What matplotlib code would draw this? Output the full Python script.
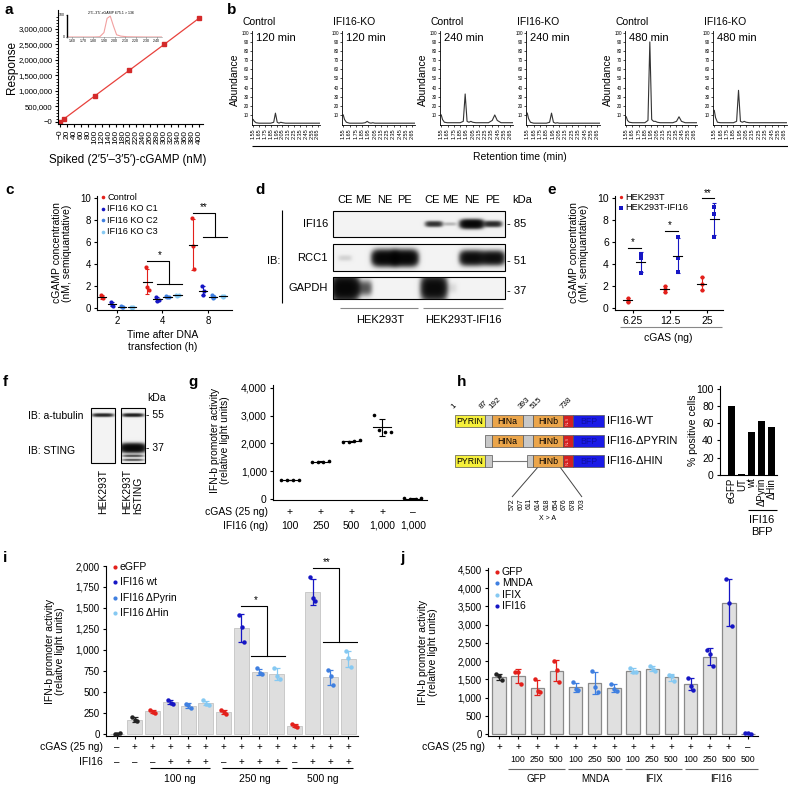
import numpy as np
import matplotlib
matplotlib.use("Agg")
import matplotlib.pyplot as plt
from matplotlib.patches import Rectangle
import matplotlib.transforms as mtrans
from matplotlib.ticker import FuncFormatter

plt.rcParams['font.family'] = ['Liberation Sans', 'DejaVu Sans']
plt.rcParams['font.size'] = 7
plt.rcParams['axes.linewidth'] = 0.8
plt.rcParams['xtick.major.width'] = 0.8
plt.rcParams['ytick.major.width'] = 0.8
plt.rcParams['xtick.major.size'] = 2.5
plt.rcParams['ytick.major.size'] = 2.5
plt.rcParams['xtick.major.pad'] = 2
plt.rcParams['ytick.major.pad'] = 2

# ------------------------------------------------------------------ data
# a
a_conc = [0, 10, 100, 200, 300, 400]
a_resp = [0, 90000, 840000, 1670000, 2500000, 3340000]
a_in_time = [1.55, 1.60, 1.70, 1.80, 1.86, 1.90, 1.93, 1.96, 1.99, 2.02, 2.06, 2.12, 2.30, 2.45]
a_in_abund = [0, 0, 0, 0, 1, 20, 85, 95, 50, 10, 4, 1, 0, 0]
# b
b_ret = [1.55, 1.57, 1.60, 1.65, 1.75, 1.85, 1.90, 1.93, 1.96, 1.99, 2.02,
         2.05, 2.10, 2.20, 2.30, 2.36, 2.40, 2.44, 2.50, 2.60, 2.70]
b_ctrl_120 = [5, 3, 1.5, 1, 1, 1, 2, 12, 2, 1, 2, 1.5, 1, 1, 1, 1, 1, 1, 1, 1, 1]
b_ko_120 = [10, 5, 2, 1, 1, 1, 1.5, 3, 1.5, 1, 1.5, 1, 1, 1, 1, 1, 1, 1, 1, 1, 1]
b_ctrl_240 = [10, 5, 2, 1.5, 1.5, 1.5, 3, 33, 3, 2, 3, 2, 1.5, 1.5, 1.5, 4, 10, 4, 1.5, 1.5, 1.5]
b_ko_240 = [12, 6, 2, 1, 1, 1, 2, 12, 2, 1, 1.5, 1, 1, 1, 1, 1, 1, 1, 1, 1, 1]
b_ctrl_480 = [8, 4, 2, 1.5, 1.5, 1.5, 4, 90, 5, 3, 3, 2, 1.5, 1.5, 1.5, 3, 8, 3, 1.5, 1.5, 1.5]
b_ko_480 = [15, 7, 2, 1.5, 1.5, 1.5, 3, 37, 3, 2, 3, 2, 1.5, 1.5, 1.5, 1.5, 1.5, 1.5, 1.5, 1.5, 1.5]
b_titles = ['Control', 'IFI16-KO', 'Control', 'IFI16-KO', 'Control', 'IFI16-KO']
b_times = ['120 min', '120 min', '240 min', '240 min', '480 min', '480 min']
b_ticks = [1.55, 1.65, 1.75, 1.85, 1.95, 2.05, 2.15, 2.25, 2.35, 2.45, 2.55, 2.65]
# c
c_times = ['2', '4', '8']
c_series = ['Control', 'IFI16 KO C1', 'IFI16 KO C2', 'IFI16 KO C3']
c_ctrl = [[1.2, 0.95, 0.85], [3.7, 1.9, 1.6], [8.2, 5.6, 3.5]]
c_ko1 = [[0.5, 0.3, 0.2], [1.0, 0.65, 0.7], [2.0, 1.2, 1.5]]
c_ko2 = [[0.12, 0.05, 0.08], [1.1, 0.95, 1.0], [1.2, 0.9, 0.95]]
c_ko3 = [[0.05, 0.02, 0.04], [1.2, 1.1, 1.15], [1.1, 1.0, 1.05]]
# d
d_lanes = ['CE', 'ME', 'NE', 'PE', 'CE', 'ME', 'NE', 'PE']
d_cells = ['HEK293T', 'HEK293T-IFI16']
d_blots = ['IFI16', 'RCC1', 'GAPDH']
d_kda = ['85', '51', '37']
d_ifi16 = [0, 0, 0, 0, 0.45, 0.08, 1.0, 0.5]
d_rcc1 = [0.04, 0, 1, 1, 0, 0, 0.85, 0.8]
d_gapdh = [1, 0.3, 0, 0, 0.9, 0.03, 0, 0]
# e
e_cgas = ['6.25', '12.5', '25']
e_series = ['HEK293T', 'HEK293T-IFI16']
e_wt = [[0.9, 0.55, 0.6], [2.0, 1.7, 1.4], [2.8, 2.2, 1.6]]
e_ifi16 = [[4.9, 4.5, 3.2], [6.5, 4.5, 3.3], [9.2, 8.6, 6.5]]
# f
f_lanes = ['HEK293T', 'HEK293T\nhSTING']
f_tubulin = [0.55, 0.6]
f_sting = [0.0, 1.0]
f_sting_low = [0.0, 0.35]
# g
g_cgas = ['+', '+', '+', '+', '–']
g_ifi16 = ['100', '250', '500', '1,000', '1,000']
g_vals = [[700, 700, 700, 700], [1350, 1330, 1335, 1360], [2060, 2065, 2075, 2110],
          [3030, 2480, 2420, 2400], [20, 15, 15, 20]]
# h
h_constructs = ['IFI16-WT', 'IFI16-ΔPYRIN', 'IFI16-ΔHIN']
h_residues = ['1', '87', '192', '393', '515', '738']
h_mutations = ['572', '607', '611', '614', '618', '654', '676', '678', '703']
h_cells = ['eGFP', 'UT', 'wt', 'ΔPyrin', 'ΔHin']
h_pct = [80, 1, 50, 63, 55]
# i
i_cgas = ['–', '+', '+', '+', '+', '+', '+', '+', '+', '+', '+', '+', '+', '+']
i_ifi16 = ['–', '–', '–', '+', '+', '+', '–', '+', '+', '+', '–', '+', '+', '+']
i_doses = ['100 ng', '250 ng', '500 ng']
i_legend = ['eGFP', 'IFI16 wt', 'IFI16 ΔPyrin', 'IFI16 ΔHin']
i_kind = ['none', 'none', 'eGFP', 'IFI16 wt', 'IFI16 ΔPyrin', 'IFI16 ΔHin',
          'eGFP', 'IFI16 wt', 'IFI16 ΔPyrin', 'IFI16 ΔHin',
          'eGFP', 'IFI16 wt', 'IFI16 ΔPyrin', 'IFI16 ΔHin']
i_vals = [[5, 0, 10], [200, 165, 150], [290, 265, 250], [410, 370, 360], [360, 345, 305],
          [400, 360, 350], [280, 262, 240], [1420, 1270, 1090], [780, 730, 710],
          [790, 690, 650], [120, 95, 80], [1870, 1620, 1580], [760, 690, 580], [990, 900, 800]]
# j
j_cgas = ['+'] * 13 + ['–']
j_dose = ['', '100', '250', '500', '100', '250', '500', '100', '250', '500', '100', '250', '500', '500']
j_groups = ['GFP', 'MNDA', 'IFIX', 'IFI16']
j_kind = ['none', 'GFP', 'GFP', 'GFP', 'MNDA', 'MNDA', 'MNDA', 'IFIX', 'IFIX', 'IFIX',
          'IFI16', 'IFI16', 'IFI16', 'IFI16']
j_vals = [[1640, 1600, 1480], [1710, 1690, 1380], [1500, 1180, 1150], [2000, 1770, 1430],
          [1430, 1230, 1210], [1730, 1300, 1150], [1380, 1240, 1180], [1820, 1700, 1700],
          [1880, 1780, 1730], [1630, 1600, 1450], [1540, 1330, 1220], [2300, 2200, 1860],
          [4250, 3590, 2970], [30, 20, 10]]

RED = '#e3201b'
DBLUE = '#1616c4'
MBLUE = '#3f7fe0'
LBLUE = '#86c9f2'
BLK = '#222222'

# ------------------------------------------------------------------ layout helpers
W, H = 788, 785
fig = plt.figure(figsize=(W / 100, H / 100), dpi=100)


def pax(x0, y0, x1, y1, **kw):
    return fig.add_axes([x0 / W, 1 - y1 / H, (x1 - x0) / W, (y1 - y0) / H], **kw)


ov = pax(0, 0, W, H)
ov.set_zorder(10)
ov.axis('off')


def T(x, y, s, **kw):
    kw.setdefault('ha', 'center')
    kw.setdefault('va', 'center')
    return ov.text(x, y, s, **kw)


def L(xs, ys, **kw):
    kw.setdefault('color', 'k')
    kw.setdefault('lw', 0.8)
    ov.plot(xs, ys, solid_capstyle='butt', **kw)


def clean(ax):
    ax.spines['top'].set_visible(False)
    ax.spines['right'].set_visible(False)


def bt(ax):
    return mtrans.blended_transform_factory(ax.transData, ov.transData)


comma = FuncFormatter(lambda v, p: f'{int(round(v)):,}')


def blot(x0, y0, w, h, bands):
    """bands: list of (cx, cy, width, height, intensity)"""
    nx, ny = int(w * 4), int(h * 4)
    xs = np.linspace(x0, x0 + w, nx)
    ys = np.linspace(y0, y0 + h, ny)
    X, Y = np.meshgrid(xs, ys)
    D = np.zeros_like(X)
    for cx, cy, bw, bh, it in bands:
        if it <= 0:
            continue
        D += it * np.exp(-np.abs((X - cx) / (bw / 2)) ** 4 - np.abs((Y - cy) / (bh / 2)) ** 2.4)
    dark = 1 - np.exp(-3.5 * D)
    img = 0.95 * (1 - dark)
    ov.imshow(img, cmap='gray', vmin=0, vmax=1, extent=(x0, x0 + w, y0 + h, y0),
              aspect='auto', interpolation='bilinear', zorder=2)
    ov.add_patch(Rectangle((x0, y0), w, h, facecolor='none', edgecolor='k', lw=0.8, zorder=4))


# panel letters
for s, x, y in [('a', 5, 10), ('b', 227, 10), ('c', 5, 190), ('d', 255, 190), ('e', 547, 190),
                ('f', 3, 382), ('g', 188, 382), ('h', 457, 382), ('i', 3, 558), ('j', 400, 558)]:
    T(x, y, s, fontsize=11, fontweight='bold', ha='left')

# ------------------------------------------------------------------ a
axA = pax(58, 10, 203, 124)
clean(axA)
axA.plot(a_conc, a_resp, color='#e8413c', lw=0.9)
axA.errorbar(a_conc, a_resp, yerr=[25000] * len(a_conc), fmt='s', ms=2.2, color='#d42a2a',
             elinewidth=0.6, capsize=1)
axA.set_xlim(-6, 412)
axA.set_ylim(-65000, 3610000)
yt = list(range(0, 3000001, 500000))
axA.set_yticks(yt)
axA.set_yticklabels(['−0'] + [f'{v:,}' for v in yt[1:]], fontsize=5.6)
axA.set_yticks(range(0, 3400001, 100000), minor=True)
xt = list(range(0, 401, 20))
axA.set_xticks(xt)
axA.set_xticklabels(['−0'] + [str(v) for v in xt[1:]], rotation=90, fontsize=6)
axA.tick_params(which='minor', length=1.2)
axA.tick_params(length=2)
T(12, 67, 'Response', rotation=90, fontsize=8.5)
T(128, 160, 'Spiked (2′5′–3′5′)-cGAMP (nM)', fontsize=8.3)

axAi = pax(67, 15, 162, 37)
clean(axAi)
axAi.plot(a_in_time, a_in_abund, color='#f2a0a0', lw=0.8)
axAi.set_xlim(1.55, 2.45)
axAi.set_ylim(0, 100)
axAi.set_yticks([0, 100])
axAi.set_yticklabels(['0', '100'], fontsize=2.5)
axAi.set_xticks(np.round(np.arange(1.60, 2.41, 0.1), 2))
axAi.set_xticklabels([f'{v:.2f}' for v in np.arange(1.60, 2.41, 0.1)], fontsize=2.5)
axAi.tick_params(length=1, width=0.4, pad=0.5)
axAi.spines['left'].set_linewidth(1.0)
axAi.spines['bottom'].set_linewidth(0.4)
axAi.spines['bottom'].set_color('#888')
T(111, 13, '2′5′–3′5′-cGAMP 675.1 > 136', fontsize=2.6)

# ------------------------------------------------------------------ b
b_traces = [b_ctrl_120, b_ko_120, b_ctrl_240, b_ko_240, b_ctrl_480, b_ko_480]
b_boxes = [(252, 320), (342, 415), (440, 513), (526, 600), (625, 697), (713, 787)]
for k, (x0, x1) in enumerate(b_boxes):
    ax = pax(x0, 31, x1, 125)
    clean(ax)
    ax.plot(b_ret, b_traces[k], color='#333333', lw=0.8)
    ax.set_xlim(1.53, 2.69)
    ax.set_ylim(-1, 102)
    ax.set_yticks(range(10, 101, 10))
    ax.set_yticklabels([str(v) for v in range(10, 101, 10)], fontsize=3.3)
    ax.set_xticks(b_ticks)
    ax.set_xticklabels([f'{v:.2f}' for v in b_ticks], rotation=90, fontsize=4)
    ax.tick_params(length=1.2, width=0.5, pad=1)
    ax.spines['left'].set_linewidth(0.6)
    ax.spines['bottom'].set_linewidth(0.6)
    T(x0 - 9, 22, b_titles[k], fontsize=7.5, ha='left')
    T(x0 + 4, 38, b_times[k], fontsize=8, ha='left')
    if k % 2 == 0:
        T(x0 - 17, 80, 'Abundance', rotation=90, fontsize=7.5)
L([252, 788], [146, 146])
T(520, 157, 'Retention time (min)', fontsize=7.5)

# ------------------------------------------------------------------ c
axC = pax(97, 196, 232, 310)
clean(axC)
c_data = [c_ctrl, c_ko1, c_ko2, c_ko3]
c_cols = [RED, DBLUE, MBLUE, LBLUE]
c_off = [-0.33, -0.11, 0.11, 0.33]
jit = [-0.03, 0.0, 0.03]
for s, data in enumerate(c_data):
    for g, pts in enumerate(data):
        x = g + c_off[s]
        m = np.mean(pts)
        sd = np.std(pts, ddof=1)
        axC.errorbar(x, m, yerr=sd, color=c_cols[s], lw=0.8, capsize=1.5, capthick=0.8)
        axC.plot([x + j for j in jit], pts, 'o', ms=3, color=c_cols[s], mew=0)
        axC.plot([x - 0.09, x + 0.09], [m, m], color='k', lw=0.8)
axC.set_xlim(-0.44, 2.53)
axC.set_ylim(-0.2, 10.2)
axC.set_yticks(range(0, 11, 2))
axC.set_xticks(range(3))
axC.set_xticklabels(c_times)
axC.tick_params(labelsize=7)
axC.plot([1 - 0.33, 1.15, 1.15], [4.27, 4.27, 2.2], color='k', lw=0.8)
axC.plot([0.87, 1.42], [2.2, 2.2], color='k', lw=0.8)
axC.text(0.93, 4.35, '*', ha='center', va='bottom', fontsize=7)
axC.plot([2 - 0.33, 2.15, 2.15], [8.65, 8.65, 6.45], color='k', lw=0.8)
axC.plot([1.89, 2.42], [6.45, 6.45], color='k', lw=0.8)
axC.text(1.9, 8.7, '**', ha='center', va='bottom', fontsize=7)
for s, name in enumerate(c_series):
    y = 197 + s * 11.6
    ov.plot(103, y, 'o', ms=2.6, color=c_cols[s], mew=0)
    T(107.5, y, name, fontsize=6.6, ha='left')
T(62, 253, 'cGAMP concentration\n(nM, semiquantative)', rotation=90, fontsize=7.5, linespacing=1.1)
T(163, 341, 'Time after DNA\ntransfection (h)', fontsize=7.5, linespacing=1.2)

# ------------------------------------------------------------------ d
lane_x = [345, 363, 385, 405, 434, 450, 472, 493]
rows = [(211, 237), (244, 271), (277, 299)]
band_y = [224, 258, 288]
band_wh = [(22, 8), (24, 14), (25, 24)]
d_int = [d_ifi16, d_rcc1, d_gapdh]
for r, (y0, y1) in enumerate(rows):
    wm, hm = band_wh[r]
    bands = [(cx, band_y[r], wm * (0.55 + 0.45 * it), hm * (0.4 + 0.6 * it), it)
             for cx, it in zip(lane_x, d_int[r])]
    blot(333, y0, 172, y1 - y0, bands)
    T(328, band_y[r], d_blots[r], ha='right', fontsize=8)
    T(507, band_y[r] + (0 if r == 0 else 3), '- ' + d_kda[r], ha='left', fontsize=8)
for l, cx in enumerate([345, 363, 385, 405, 432, 450, 472, 493]):
    T(cx, 200, d_lanes[l], fontsize=8)
T(512, 200, 'kDa', ha='left', fontsize=8)
T(274, 261, 'IB:', fontsize=8)
L([282, 282], [210, 303])
L([340, 418], [308, 308], color='#888')
L([423, 503], [308, 308], color='#888')
T(380, 320, d_cells[0], fontsize=8)
T(463, 320, d_cells[1], fontsize=8)

# ------------------------------------------------------------------ e
axE = pax(615, 196, 723, 310)
clean(axE)
e_data = [e_wt, e_ifi16]
e_cols = [RED, DBLUE]
e_off = [-0.15, 0.2]
e_mk = ['o', 's']
for s, data in enumerate(e_data):
    for g, pts in enumerate(data):
        x = g + e_off[s]
        m = np.mean(pts)
        sd = np.std(pts, ddof=1)
        axE.errorbar(x, m, yerr=sd, color=e_cols[s], lw=0.8, capsize=1.5, capthick=0.8)
        axE.plot([x] * len(pts), pts, e_mk[s], ms=3, color=e_cols[s], mew=0)
        axE.plot([x - 0.12, x + 0.12], [m, m], color='k', lw=0.8)
axE.set_xlim(-0.49, 2.43)
axE.set_ylim(-0.2, 10.2)
axE.set_yticks(range(0, 11, 2))
axE.set_xticks(range(3))
axE.set_xticklabels(e_cgas)
axE.tick_params(labelsize=7.5)
axE.plot([-0.15, 0.2], [5.5, 5.5], color='k', lw=0.8)
axE.text(0.0, 5.55, '*', ha='center', va='bottom', fontsize=7)
axE.plot([0.85, 1.2], [7.0, 7.0], color='k', lw=0.8)
axE.text(1.0, 7.05, '*', ha='center', va='bottom', fontsize=7)
axE.plot([1.85, 2.2], [10.0, 10.0], color='k', lw=0.8, clip_on=False)
axE.text(2.02, 10.05, '**', ha='center', va='bottom', fontsize=7, clip_on=False)
for s, name in enumerate(e_series):
    y = 197 + s * 10.5
    ov.plot(621, y, e_mk[s], ms=2.4, color=e_cols[s], mew=0)
    T(625.5, y, name, fontsize=6.6, ha='left')
L([620, 722], [327, 327], color='#888')
T(668, 338, 'cGAS (ng)', fontsize=7.5)
T(579, 253, 'cGAMP concentration\n(nM, semiquantative)', rotation=90, fontsize=7.5, linespacing=1.1)

# ------------------------------------------------------------------ f
f_x = [103, 133]
for l, cx in enumerate(f_x):
    bands = [(cx, 415, 20, 3.2, f_tubulin[l]), (cx, 448, 24, 8, f_sting[l]),
             (cx, 456, 20, 2.2, f_sting_low[l]), (cx, 460, 20, 2.0, f_sting_low[l])]
    blot(cx - 12, 408, 24, 55, bands)
    T(cx, 469, f_lanes[l], rotation=90, ha='center', va='top', fontsize=7.5, linespacing=1.1,
      multialignment='left')
T(28, 416, 'IB: a-tubulin', ha='left', fontsize=7.5)
T(28, 451, 'IB: STING', ha='left', fontsize=7.5)
T(147, 398, 'kDa', ha='left', fontsize=7.5)
T(146, 415, '- 55', ha='left', fontsize=7.5)
T(146, 448, '- 37', ha='left', fontsize=7.5)

# ------------------------------------------------------------------ g
axG = pax(273, 385, 427, 500)
clean(axG)
g_off = [-0.28, -0.09, 0.09, 0.28]
for g, pts in enumerate(g_vals):
    m = np.mean(pts)
    sd = np.std(pts, ddof=1)
    axG.errorbar(g, m, yerr=sd, color='k', lw=0.8, capsize=2, capthick=0.8)
    axG.plot([g + o for o in g_off], pts, 'o', ms=2.6, color='k', mew=0)
    axG.plot([g - 0.3, g + 0.3], [m, m], color='k', lw=0.8)
axG.set_xlim(-0.55, 4.46)
axG.set_ylim(-36, 4108)
axG.set_yticks(range(0, 4001, 1000))
axG.yaxis.set_major_formatter(comma)
axG.set_xticks([])
axG.tick_params(labelsize=7.5)
for g in range(5):
    axG.text(g, 512, g_cgas[g], transform=bt(axG), ha='center', va='center', fontsize=7.5)
    axG.text(g, 526, g_ifi16[g], transform=bt(axG), ha='center', va='center', fontsize=7.5)
T(268, 512, 'cGAS (25 ng)', ha='right', fontsize=7.5)
T(268, 526, 'IFI16 (ng)', ha='right', fontsize=7.5)
T(220, 440, 'IFN-b promoter activity\n(relative light units)', rotation=90, fontsize=7.5, linespacing=1.1)

# ------------------------------------------------------------------ h diagram
seg = {'PYRIN': (455, 485), 'g1': (485, 492), 'HINa': (492, 523), 'g2': (523, 533),
       'HINb': (533, 563), 'NLS': (563, 573), 'BFP': (573, 604), 'g3': (527, 533)}
segcol = {'PYRIN': '#f6f03a', 'g1': '#c8c8c8', 'HINa': '#eba54a', 'g2': '#c8c8c8',
          'HINb': '#eba54a', 'NLS': '#d42020', 'BFP': '#1a1ae6', 'g3': '#c8c8c8'}
constructs = [['PYRIN', 'g1', 'HINa', 'g2', 'HINb', 'NLS', 'BFP'],
              ['g1', 'HINa', 'g2', 'HINb', 'NLS', 'BFP'],
              ['PYRIN', 'g1', 'LINE', 'g3', 'HINb', 'NLS', 'BFP']]
row_y = [421, 441, 461]
for r, parts in enumerate(constructs):
    yc = row_y[r]
    for p in parts:
        if p == 'LINE':
            L([492, 527], [yc, yc], color='#777', lw=0.8)
            continue
        x0, x1 = seg[p]
        ov.add_patch(Rectangle((x0, yc - 6), x1 - x0, 12, facecolor=segcol[p], edgecolor='#555',
                               lw=0.5, zorder=3))
        if p in ('PYRIN', 'HINa', 'HINb'):
            T((x0 + x1) / 2, yc, p, fontsize=6.3, zorder=5)
        elif p == 'NLS':
            T((x0 + x1) / 2, yc, 'NLS', fontsize=3, rotation=90, color='#f5b0b0', zorder=5)
        elif p == 'BFP':
            T((x0 + x1) / 2, yc, 'BFP', fontsize=6.3, color='#1010a0', zorder=5)
    T(607, yc, h_constructs[r], ha='left', fontsize=8)
for s, x in zip(h_residues, [455, 483, 493, 522, 534, 564]):
    T(x, 410, s, rotation=45, fontsize=5.8, ha='left', va='bottom', rotation_mode='anchor')
L([538, 512], [467, 497], color='#444', lw=0.7)
L([560, 582], [467, 497], color='#444', lw=0.7)
for k, s in enumerate(h_mutations):
    T(512 + k * 8.75, 498, s, rotation=90, fontsize=5, va='top')
T(548, 518, 'X > A', fontsize=5)

# h bar chart
axH = pax(720, 386, 777, 475)
clean(axH)
axH.bar(range(len(h_pct)), h_pct, width=0.72, color='k')
axH.set_xlim(-1.2, 4.55)
axH.set_ylim(0, 103)
axH.set_yticks(range(0, 101, 20))
axH.set_xticks(range(len(h_cells)))
axH.set_xticklabels(h_cells, rotation=90, fontsize=7)
axH.tick_params(axis='y', labelsize=7.5)
axH.tick_params(axis='x', length=0)
T(693, 430, '% positive cells', rotation=90, fontsize=7.5)
L([748, 777], [510, 510])
T(762, 526, 'IFI16\nBFP', fontsize=8, linespacing=1.2)

# ------------------------------------------------------------------ i
axI = pax(106, 566, 358, 736)
clean(axI)
kind_col = {'none': BLK, 'eGFP': RED, 'IFI16 wt': DBLUE, 'IFI16 ΔPyrin': MBLUE, 'IFI16 ΔHin': LBLUE,
            'GFP': RED, 'MNDA': MBLUE, 'IFIX': LBLUE, 'IFI16': DBLUE}
pt_off = [-0.14, 0.02, 0.15]
i_means = [np.mean(v) for v in i_vals]
axI.bar(range(14), i_means, width=0.84, color='#dedede', edgecolor='#c4c4c4', lw=0.6, zorder=1)
for k, pts in enumerate(i_vals):
    c = kind_col[i_kind[k]]
    sd = np.std(pts, ddof=1)
    axI.errorbar(k, i_means[k], yerr=sd, color=c, lw=0.9, capsize=2, capthick=0.9, zorder=2)
    axI.plot([k + o for o in pt_off], pts, 'o', ms=3.2, color=c, mew=0, zorder=3)
axI.set_xlim(-0.62, 13.56)
axI.set_ylim(-24, 2000)
axI.set_yticks(range(0, 2001, 250))
axI.yaxis.set_major_formatter(comma)
axI.set_xticks(range(14))
axI.set_xticklabels([])
axI.tick_params(labelsize=7)
axI.tick_params(axis='x', length=2)
axI.plot([7, 8.46, 8.46], [1520, 1520, 930], color='k', lw=0.8)
axI.plot([7.56, 9.43], [930, 930], color='k', lw=0.8)
axI.text(7.8, 1540, '*', ha='center', va='bottom', fontsize=7)
axI.plot([11, 12.5, 12.5], [1976, 1976, 1095], color='k', lw=0.8, clip_on=False)
axI.plot([11.6, 13.5], [1095, 1095], color='k', lw=0.8)
axI.text(11.8, 1990, '**', ha='center', va='bottom', fontsize=7, clip_on=False)
for k in range(14):
    axI.text(k, 747, i_cgas[k], transform=bt(axI), ha='center', va='center', fontsize=7)
    axI.text(k, 762, i_ifi16[k], transform=bt(axI), ha='center', va='center', fontsize=7)
T(103, 747, 'cGAS (25 ng)', ha='right', fontsize=7.5)
T(103, 762, 'IFI16', ha='right', fontsize=7.5)
for (x0, x1), s in zip([(150, 210), (222, 287), (292, 353)], i_doses):
    L([x0, x1], [768, 768])
    T((x0 + x1) / 2, 779, s, fontsize=7.5)
for k, name in enumerate(i_legend):
    y = 567 + k * 15.3
    ov.plot(115, y, 'o', ms=3, color=kind_col[name], mew=0)
    T(120, y, name, ha='left', fontsize=7.5)
T(55, 651, 'IFN-b promoter activity\n(relaitve light units)', rotation=90, fontsize=7.5, linespacing=1.1)

# ------------------------------------------------------------------ j
axJ = pax(488, 568, 758, 736)
clean(axJ)
j_means = [np.mean(v) for v in j_vals]
bar_h = [m if k < 13 else 0 for k, m in enumerate(j_means)]
axJ.bar(range(14), bar_h, width=0.7, color='#e0e0e0', edgecolor='#8a8a8a', lw=0.9, zorder=1)
for k, pts in enumerate(j_vals):
    c = kind_col[j_kind[k]]
    sd = np.std(pts, ddof=1)
    axJ.errorbar(k, j_means[k], yerr=sd, color=c, lw=0.9, capsize=2, capthick=0.9, zorder=2)
    axJ.plot([k + o for o in pt_off], pts, 'o', ms=3.2, color=c, mew=0, zorder=3)
axJ.set_xlim(-0.57, 13.52)
axJ.set_ylim(-50, 4550)
axJ.set_yticks(range(0, 4501, 500))
axJ.yaxis.set_major_formatter(comma)
axJ.set_xticks(range(14))
axJ.set_xticklabels([])
axJ.tick_params(labelsize=7)
axJ.tick_params(axis='x', length=2)
for k in range(14):
    axJ.text(k, 747, j_cgas[k], transform=bt(axJ), ha='center', va='center', fontsize=7)
    axJ.text(k, 759, j_dose[k], transform=bt(axJ), ha='center', va='center', fontsize=6.3)
T(485, 747, 'cGAS (25 ng)', ha='right', fontsize=7.5)
for (x0, x1), s in zip([(508, 565), (568, 622), (625, 682), (685, 758)], j_groups):
    L([x0, x1], [769, 769], color='#666')
    T((x0 + x1) / 2, 779, s, fontsize=7)
for k, name in enumerate(j_groups):
    y = 572 + k * 11.3
    ov.plot(497, y, 'o', ms=3, color=kind_col[name], mew=0)
    T(502, y, name, ha='left', fontsize=7.5)
T(428, 652, 'IFN-b promoter activity\n(relaitve light units)', rotation=90, fontsize=7.5, linespacing=1.1)

ov.set_xlim(0, W)
ov.set_ylim(H, 0)
fig.savefig('out.png', dpi=100)
